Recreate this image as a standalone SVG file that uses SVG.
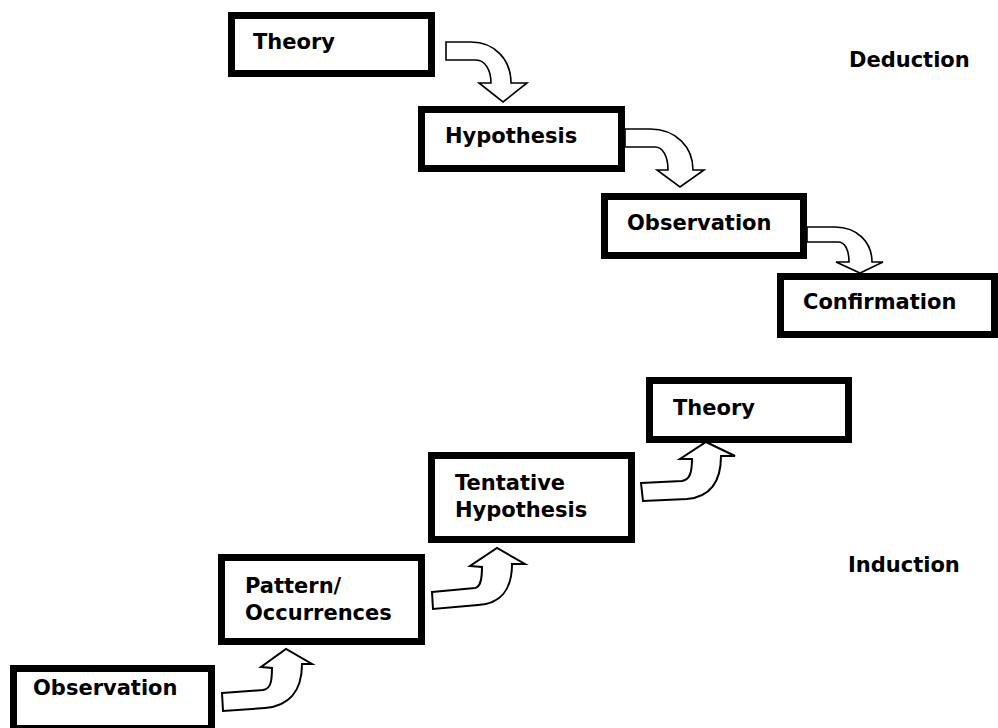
<svg xmlns="http://www.w3.org/2000/svg" width="998" height="728" viewBox="0 0 998 728">
<style>
.box{fill:#fff;stroke:#000;stroke-width:7}
.lbl{font-family:"DejaVu Sans",Verdana,sans-serif;font-weight:bold;font-size:21px;fill:#000}
.side{font-family:"DejaVu Sans",Verdana,sans-serif;font-weight:bold;font-size:21px;fill:#000}
.arr{fill:#fff;stroke:#000;stroke-width:1.6;stroke-linejoin:miter}
.arr2{fill:#fff;stroke:#000;stroke-width:2;stroke-linejoin:miter}
</style>
<rect width="998" height="728" fill="#fff"/>
<g id="connectors">
<path class="arr" d="M446,42 L471,42 C495,42 511,60 511,83 L527,83 L503,102 L479,83 L491,83 C491,70 485,60 476,60 L446,60 Z"/>
<path class="arr" d="M625,129 L650,129 C676,129 693,147 693,170 L704,170 L680,187 L657,170 L668,170 C668,155 662,147 655,147 L625,147 Z"/>
<path class="arr" d="M807,227 L835,227 C858,227 872,243 872,262 L883,262 L860,273 L836,262 L849,262 C849,250 845,242 838,242 L807,242 Z"/>
<path class="arr2" d="M222,693 L263,690 C270,689 272,683 272,668 L261,667 L286,649 L312,664 L302,664 C302,692 288,706 265,708 L223,711 Z"/>
<path class="arr2" d="M432,592 L475,588 C480,587 482,581 482,567 L470,566 L497,548 L525,564 L512,564 C512,590 500,604 478,605 L433,609 Z"/>
<path class="arr2" d="M641,483 L682,481 C689,480 692,474 692,459 L680,459 L706,442 L735,456 L721,456 C721,482 710,497 687,499 L643,501 Z"/>
</g>
<g id="d-theory"><rect class="box" x="231.5" y="15.5" width="200" height="58"/><text class="lbl" x="253" y="49">Theory</text></g>
<g id="d-hypothesis"><rect class="box" x="421.5" y="109.5" width="200" height="59"/><text class="lbl" x="445" y="143">Hypothesis</text></g>
<g id="d-observation"><rect class="box" x="604.5" y="196.5" width="199" height="59"/><text class="lbl" x="627" y="230">Observation</text></g>
<g id="d-confirmation"><rect class="box" x="780.5" y="276.5" width="214" height="58"/><text class="lbl" x="803" y="309">Confirmation</text></g>
<g id="i-theory"><rect class="box" x="649.5" y="380.5" width="199" height="59"/><text class="lbl" x="673" y="415">Theory</text></g>
<g id="i-tentative"><rect class="box" x="431.5" y="455.5" width="200" height="84"/><text class="lbl" x="455" y="490">Tentative</text><text class="lbl" x="455" y="517">Hypothesis</text></g>
<g id="i-pattern"><rect class="box" x="221.5" y="557.5" width="200" height="84"/><text class="lbl" x="245" y="593">Pattern/</text><text class="lbl" x="245" y="620">Occurrences</text></g>
<g id="i-observation"><rect class="box" x="13.5" y="668.5" width="198" height="60"/><text class="lbl" x="33" y="695">Observation</text></g>
<text class="side" x="849" y="67">Deduction</text>
<text class="side" x="848" y="572">Induction</text>
</svg>
